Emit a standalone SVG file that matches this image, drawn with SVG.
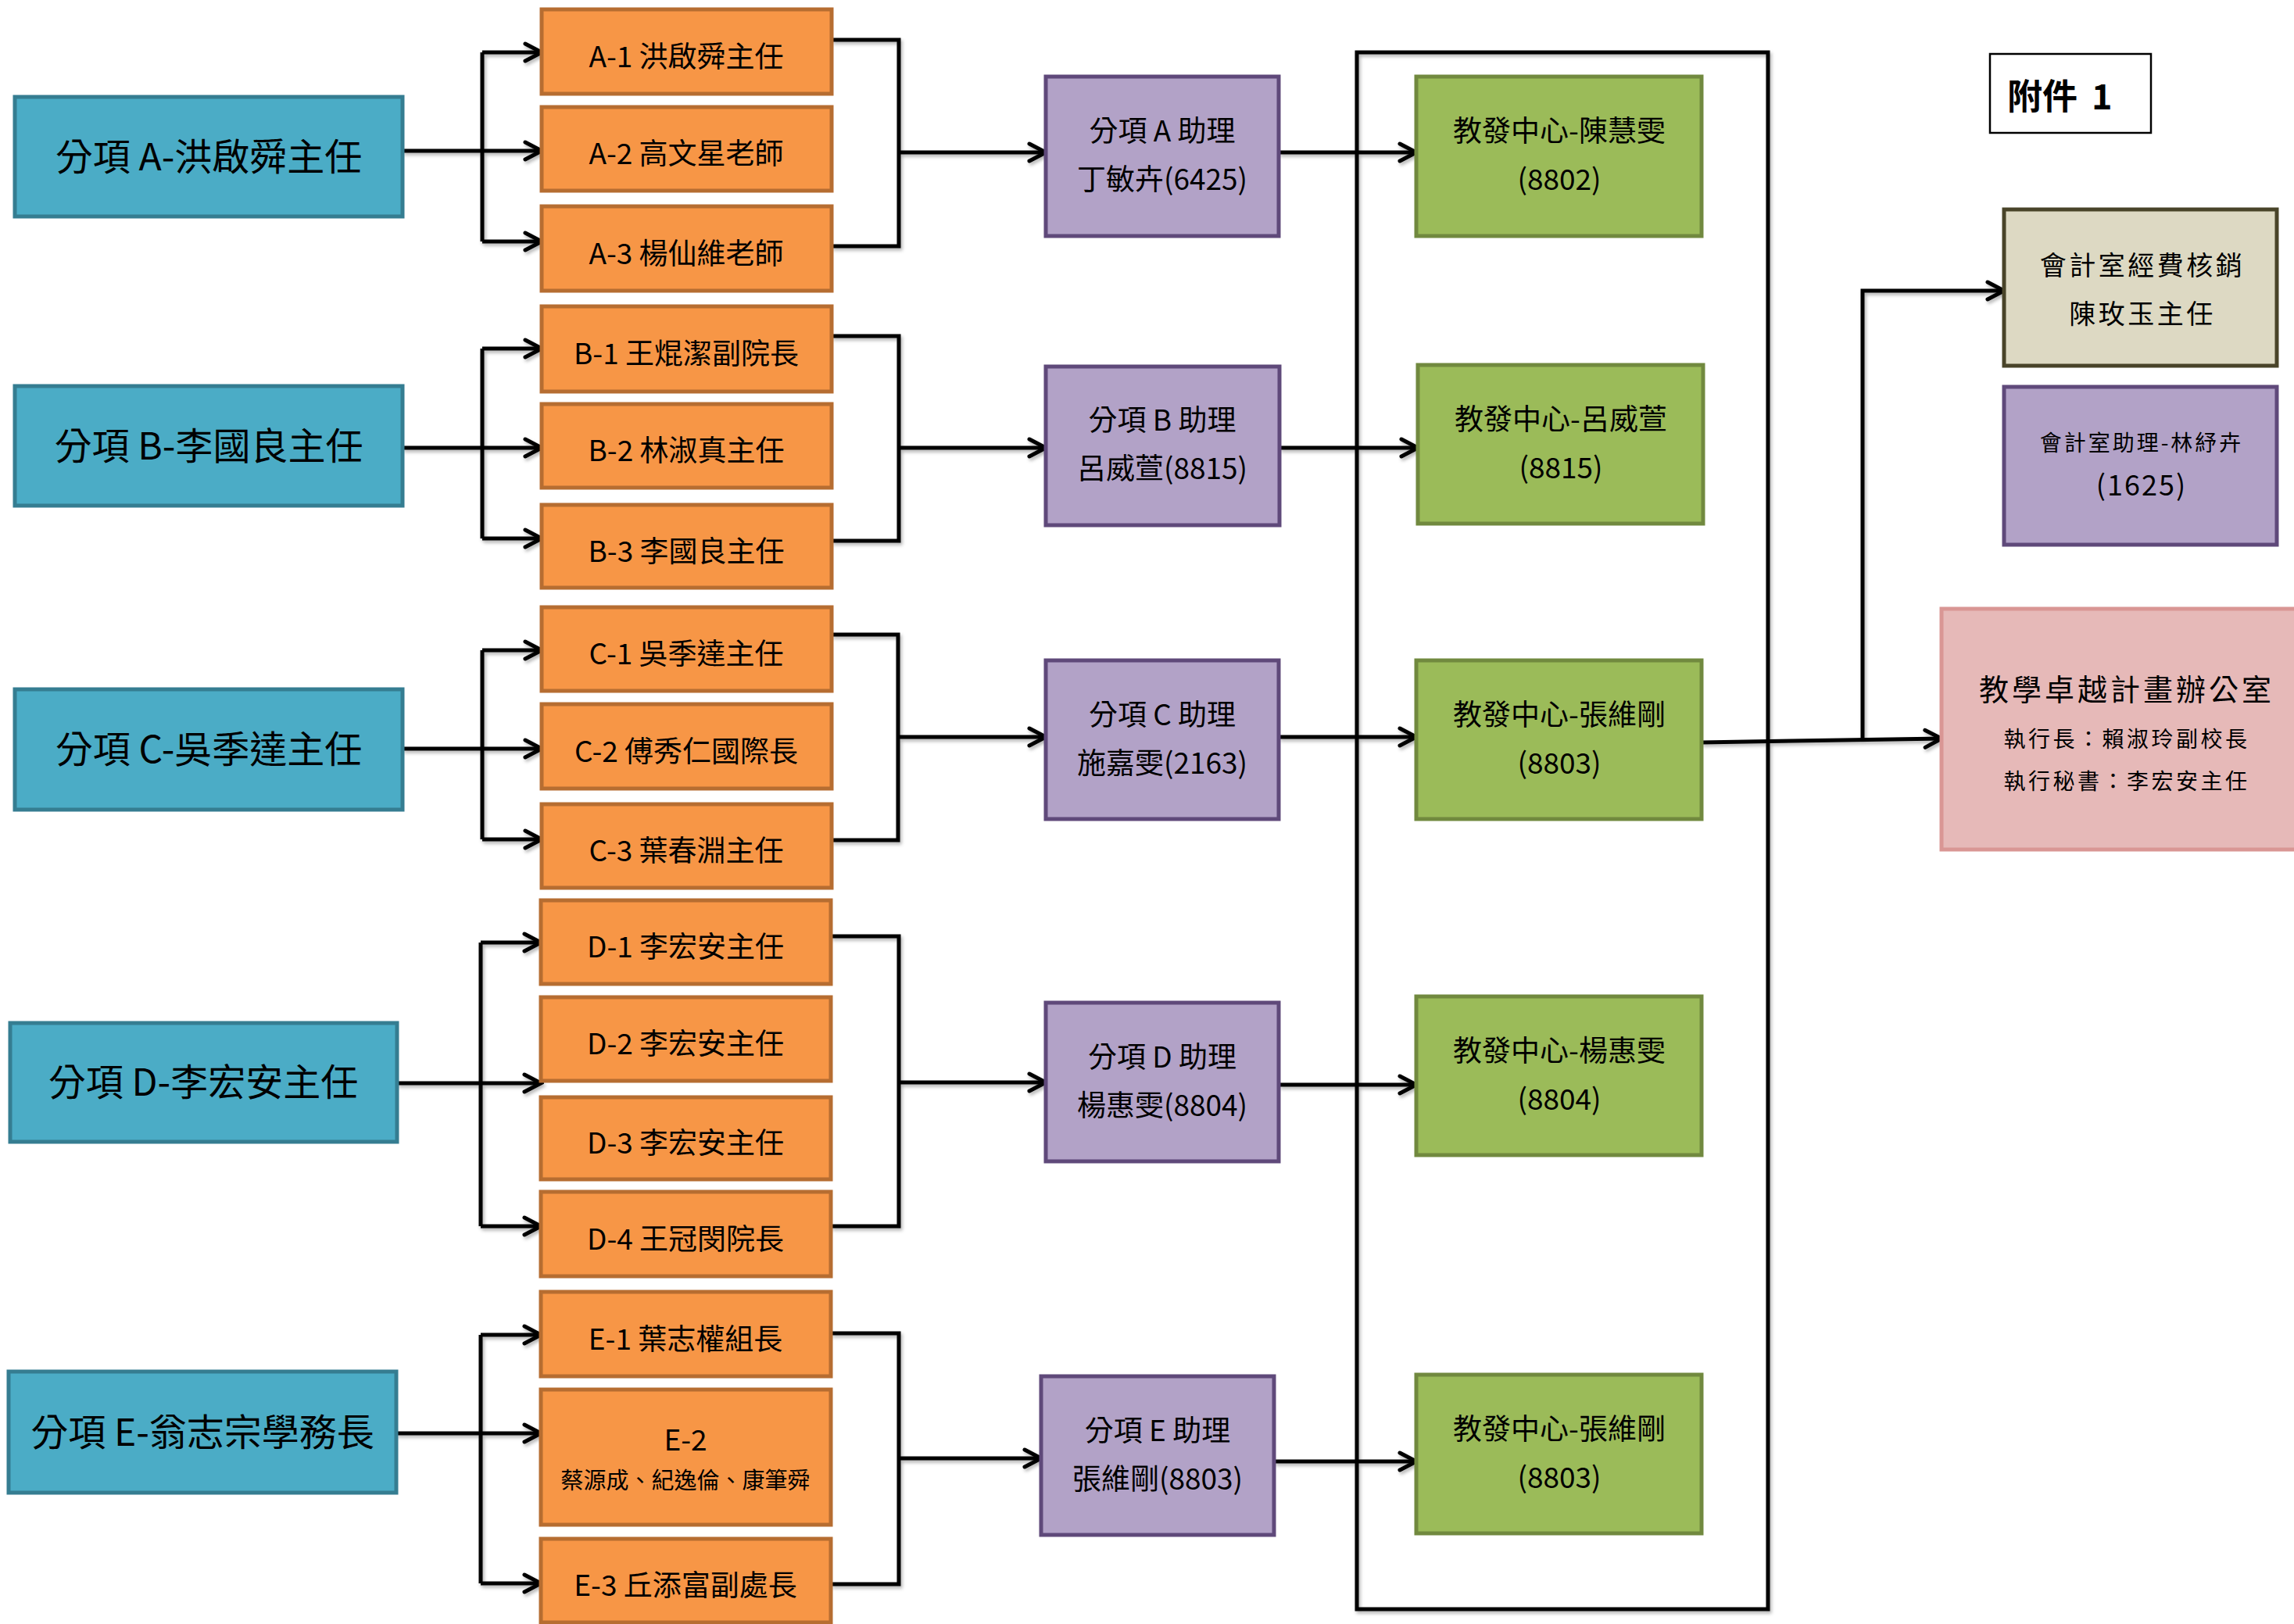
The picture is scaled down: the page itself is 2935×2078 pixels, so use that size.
<svg xmlns="http://www.w3.org/2000/svg" width="2935" height="2078" viewBox="0 0 2935 2078">
<style>
text{font-family:"Noto Sans CJK TC","Noto Sans",sans-serif;fill:#000;text-anchor:middle}
.blue{fill:#4BACC6;stroke:#357D91;stroke-width:5}
.org{fill:#F79646;stroke:#B66D31;stroke-width:5}
.pur{fill:#B2A2C7;stroke:#5F497A;stroke-width:5}
.grn{fill:#9BBB59;stroke:#71893F;stroke-width:5}
.bei{fill:#DDD9C3;stroke:#494429;stroke-width:5}
.pnk{fill:#E6B9B8;stroke:#D99694;stroke-width:5}
.tb{font-size:48px}
.to{font-size:37px}
.tp{font-size:37px}
.ln{fill:none;stroke:#000;stroke-width:5}
.ar{fill:none;stroke:#000;stroke-width:5;marker-end:url(#arr)}
</style>
<defs>
<marker id="arr" markerUnits="userSpaceOnUse" markerWidth="30" markerHeight="34" viewBox="0 0 30 34" refX="26" refY="17" orient="auto">
<path d="M5,6 L26,17 L5,28" fill="none" stroke="#000" stroke-width="5" stroke-linecap="round" stroke-linejoin="miter"/>
</marker>
<filter id="sh" x="-5%" y="-5%" width="110%" height="110%">
<feDropShadow dx="2" dy="3" stdDeviation="2" flood-color="#000" flood-opacity="0.3"/>
</filter>
</defs>
<rect x="0" y="0" width="2935" height="2078" fill="#fff"/>

<g id="connectors" filter="url(#sh)">
<rect x="1736" y="67" width="526" height="1992" class="ln"/>
<path class="ln" d="M617,67 V309"/>
<path class="ar" d="M617,67 H693"/>
<path class="ar" d="M515,193 H693"/>
<path class="ar" d="M617,309 H693"/>
<path class="ln" d="M617,446 V689"/>
<path class="ar" d="M617,446 H693"/>
<path class="ar" d="M515,573 H693"/>
<path class="ar" d="M617,689 H693"/>
<path class="ln" d="M617,832 V1074"/>
<path class="ar" d="M617,832 H693"/>
<path class="ar" d="M515,958 H693"/>
<path class="ar" d="M617,1074 H693"/>
<path class="ln" d="M615,1206 V1569"/>
<path class="ar" d="M615,1206 H692"/>
<path class="ar" d="M508,1386 H692"/>
<path class="ar" d="M615,1569 H692"/>
<path class="ln" d="M615,1708 V2026"/>
<path class="ar" d="M615,1708 H692"/>
<path class="ar" d="M507,1834 H692"/>
<path class="ar" d="M615,2026 H692"/>
<path class="ln" d="M1064,51 H1150 V315 H1064"/>
<path class="ar" d="M1150,195 H1338"/>
<path class="ln" d="M1064,430 H1150 V692 H1064"/>
<path class="ar" d="M1150,573 H1338"/>
<path class="ln" d="M1064,812 H1149 V1075 H1064"/>
<path class="ar" d="M1149,943 H1338"/>
<path class="ln" d="M1063,1198 H1150 V1569 H1063"/>
<path class="ar" d="M1150,1385 H1338"/>
<path class="ln" d="M1063,1706 H1150 V2027 H1063"/>
<path class="ar" d="M1150,1866 H1332"/>
<path class="ar" d="M1636,195 H1812"/>
<path class="ar" d="M1637,573 H1814"/>
<path class="ar" d="M1636,943 H1812"/>
<path class="ar" d="M1636,1388 H1812"/>
<path class="ar" d="M1630,1870 H1812"/>
<path class="ar" d="M2177,950 L2484,945"/>
<path class="ar" d="M2383,947 V372 H2564"/>
</g>

<g id="blueA"><rect class="blue" x="19" y="124" width="496" height="153"/><text class="tb" x="267" y="218">分項 A-洪啟舜主任</text></g>
<g id="blueB"><rect class="blue" x="19" y="494" width="496" height="153"/><text class="tb" x="267" y="588">分項 B-李國良主任</text></g>
<g id="blueC"><rect class="blue" x="19" y="882" width="496" height="154"/><text class="tb" x="267" y="976">分項 C-吳季達主任</text></g>
<g id="blueD"><rect class="blue" x="13" y="1309" width="495" height="152"/><text class="tb" x="260" y="1402">分項 D-李宏安主任</text></g>
<g id="blueE"><rect class="blue" x="11" y="1755" width="496" height="155"/><text class="tb" x="259" y="1850">分項 E-翁志宗學務長</text></g>

<g id="A1"><rect class="org" x="693" y="12" width="371" height="108"/><text class="to" x="878" y="86">A-1 洪啟舜主任</text></g>
<g id="A2"><rect class="org" x="693" y="137" width="371" height="107"/><text class="to" x="878" y="210">A-2 高文星老師</text></g>
<g id="A3"><rect class="org" x="693" y="264" width="371" height="108"/><text class="to" x="878" y="338">A-3 楊仙維老師</text></g>
<g id="B1"><rect class="org" x="693" y="392" width="371" height="109"/><text class="to" x="878" y="466">B-1 王焜潔副院長</text></g>
<g id="B2"><rect class="org" x="693" y="517" width="371" height="107"/><text class="to" x="878" y="590">B-2 林淑真主任</text></g>
<g id="B3"><rect class="org" x="693" y="646" width="371" height="106"/><text class="to" x="878" y="719">B-3 李國良主任</text></g>
<g id="C1"><rect class="org" x="693" y="777" width="371" height="107"/><text class="to" x="878" y="850">C-1 吳季達主任</text></g>
<g id="C2"><rect class="org" x="693" y="901" width="371" height="108"/><text class="to" x="878" y="975">C-2 傅秀仁國際長</text></g>
<g id="C3"><rect class="org" x="693" y="1029" width="371" height="107"/><text class="to" x="878" y="1102">C-3 葉春淵主任</text></g>
<g id="D1"><rect class="org" x="692" y="1152" width="371" height="107"/><text class="to" x="877" y="1225">D-1 李宏安主任</text></g>
<g id="D2"><rect class="org" x="692" y="1276" width="371" height="107"/><text class="to" x="877" y="1349">D-2 李宏安主任</text></g>
<g id="D3"><rect class="org" x="692" y="1404" width="371" height="105"/><text class="to" x="877" y="1476">D-3 李宏安主任</text></g>
<g id="D4"><rect class="org" x="692" y="1525" width="371" height="108"/><text class="to" x="877" y="1599">D-4 王冠閔院長</text></g>
<g id="E1"><rect class="org" x="692" y="1653" width="371" height="108"/><text class="to" x="877" y="1727">E-1 葉志權組長</text></g>
<g id="E2"><rect class="org" x="692" y="1778" width="371" height="173"/><text class="to" x="877" y="1856">E-2</text><text x="877" y="1905" style="font-size:29px">蔡源成、紀逸倫、康筆舜</text></g>
<g id="E3"><rect class="org" x="692" y="1969" width="371" height="107"/><text class="to" x="877" y="2042">E-3 丘添富副處長</text></g>

<g id="PA"><rect class="pur" x="1338" y="98" width="298" height="204"/><text class="tp" x="1487" y="181">分項 A 助理</text><text class="tp" x="1487" y="243">丁敏卉(6425)</text></g>
<g id="PB"><rect class="pur" x="1338" y="469" width="299" height="203"/><text class="tp" x="1487" y="551">分項 B 助理</text><text class="tp" x="1487" y="613">呂威萱(8815)</text></g>
<g id="PC"><rect class="pur" x="1338" y="845" width="298" height="203"/><text class="tp" x="1487" y="928">分項 C 助理</text><text class="tp" x="1487" y="990">施嘉雯(2163)</text></g>
<g id="PD"><rect class="pur" x="1338" y="1283" width="298" height="203"/><text class="tp" x="1487" y="1366">分項 D 助理</text><text class="tp" x="1487" y="1428">楊惠雯(8804)</text></g>
<g id="PE"><rect class="pur" x="1332" y="1761" width="298" height="203"/><text class="tp" x="1481" y="1844">分項 E 助理</text><text class="tp" x="1481" y="1906">張維剛(8803)</text></g>

<g id="GA"><rect class="grn" x="1812" y="98" width="365" height="204"/><text class="tp" x="1995" y="181">教發中心-陳慧雯</text><text class="tp" x="1995" y="243">(8802)</text></g>
<g id="GB"><rect class="grn" x="1814" y="467" width="365" height="203"/><text class="tp" x="1997" y="550">教發中心-呂威萱</text><text class="tp" x="1997" y="612">(8815)</text></g>
<g id="GC"><rect class="grn" x="1812" y="845" width="365" height="203"/><text class="tp" x="1995" y="928">教發中心-張維剛</text><text class="tp" x="1995" y="990">(8803)</text></g>
<g id="GD"><rect class="grn" x="1812" y="1275" width="365" height="203"/><text class="tp" x="1995" y="1358">教發中心-楊惠雯</text><text class="tp" x="1995" y="1420">(8804)</text></g>
<g id="GE"><rect class="grn" x="1812" y="1759" width="365" height="203"/><text class="tp" x="1995" y="1842">教發中心-張維剛</text><text class="tp" x="1995" y="1904">(8803)</text></g>

<g id="fujian"><rect x="2546" y="69" width="206" height="101" fill="#fff" stroke="#000" stroke-width="2.5"/><text x="2568" y="140" style="font-size:45px;font-weight:bold;text-anchor:start">附件</text><text x="2676" y="140" style="font-size:45px;font-weight:bold;text-anchor:start">1</text></g>

<g id="acct"><rect class="bei" x="2564" y="268" width="349" height="200"/><text x="2741" y="352" style="font-size:34px;letter-spacing:3.5px">會計室經費核銷</text><text x="2741" y="414" style="font-size:34px;letter-spacing:3.5px">陳玫玉主任</text></g>
<g id="acctAsst"><rect class="pur" x="2564" y="495" width="349" height="202"/><text x="2740" y="577" style="font-size:28px;letter-spacing:3px">會計室助理-林紓卉</text><text x="2740" y="634" style="font-size:36px;letter-spacing:2px">(1625)</text></g>
<g id="office"><rect class="pnk" x="2484" y="779" width="480" height="308"/><text x="2721" y="896" style="font-size:38px;letter-spacing:4px">教學卓越計畫辦公室</text><text x="2721" y="956" style="font-size:28px;letter-spacing:3.5px">執行長：賴淑玲副校長</text><text x="2721" y="1010" style="font-size:28px;letter-spacing:3.5px">執行秘書：李宏安主任</text></g>
</svg>
